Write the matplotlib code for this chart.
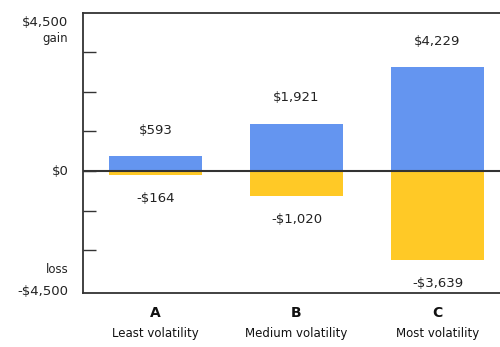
import numpy as np
import matplotlib.pyplot as plt

# données
categories = ["A", "B", "C"]
descriptions = ["Least volatility", "Medium volatility", "Most volatility"]
gains = [593, 1921, 4229]
losses = [-164, -1020, -3639]
gain_labels = ["$593", "$1,921", "$4,229"]
loss_labels = ["-$164", "-$1,020", "-$3,639"]

blue = "#6495F0"
yellow = "#FFC926"
dark = "#333333"

fig = plt.figure(figsize=(5, 3.47), dpi=100)
ax = fig.add_axes([83/500, 54/347, 1 - 83/500, 280/347])

x = np.arange(len(categories))
ax.bar(x, gains, width=0.66, color=blue)
ax.bar(x, losses, width=0.66, color=yellow)
ax.axhline(0, color=dark, lw=1.5)

ax.set_xlim(-0.514, 2.443)
ax.set_ylim(-4980, 6450)

# étiquettes des valeurs
for i in range(len(x)):
    ax.annotate(gain_labels[i], (x[i], gains[i]), xytext=(0, 19), textcoords="offset points",
                ha="center", va="center", fontsize=9.5, color="#222222")
    ax.annotate(loss_labels[i], (x[i], losses[i]), xytext=(0, -17), textcoords="offset points",
                ha="center", va="center", fontsize=9.5, color="#222222")

# graduations
ax.set_yticks([-3240, -1620, 0, 1620, 3240, 4860])
ax.set_yticklabels([])
ax.tick_params(axis="y", direction="in", length=9, width=1, color=dark)
ax.set_xticks([])

for s in ["left", "top", "bottom"]:
    ax.spines[s].set_color(dark)
    ax.spines[s].set_linewidth(1.3)
ax.spines["right"].set_visible(False)

# libellés de l'axe y
tr = ax.get_yaxis_transform()
ax.text(-0.035, 6080, "$4,500", transform=tr, ha="right", va="center", fontsize=9.5, color="#222222")
ax.text(-0.035, 5390, "gain", transform=tr, ha="right", va="center", fontsize=8.5, color="#222222")
ax.text(-0.035, 0, "$0", transform=tr, ha="right", va="center", fontsize=9.5, color="#222222")
ax.text(-0.035, -4040, "loss", transform=tr, ha="right", va="center", fontsize=8.5, color="#222222")
ax.text(-0.035, -4900, "-$4,500", transform=tr, ha="right", va="center", fontsize=9.5, color="#222222")

# catégories
xt = ax.get_xaxis_transform()
for i in range(len(x)):
    ax.text(x[i], -0.071, categories[i], transform=xt, ha="center", va="center",
            fontsize=10, fontweight="bold", color="#111111")
    ax.text(x[i], -0.143, descriptions[i], transform=xt, ha="center", va="center",
            fontsize=8.5, color="#111111")

fig.savefig("out.png", dpi=100)
